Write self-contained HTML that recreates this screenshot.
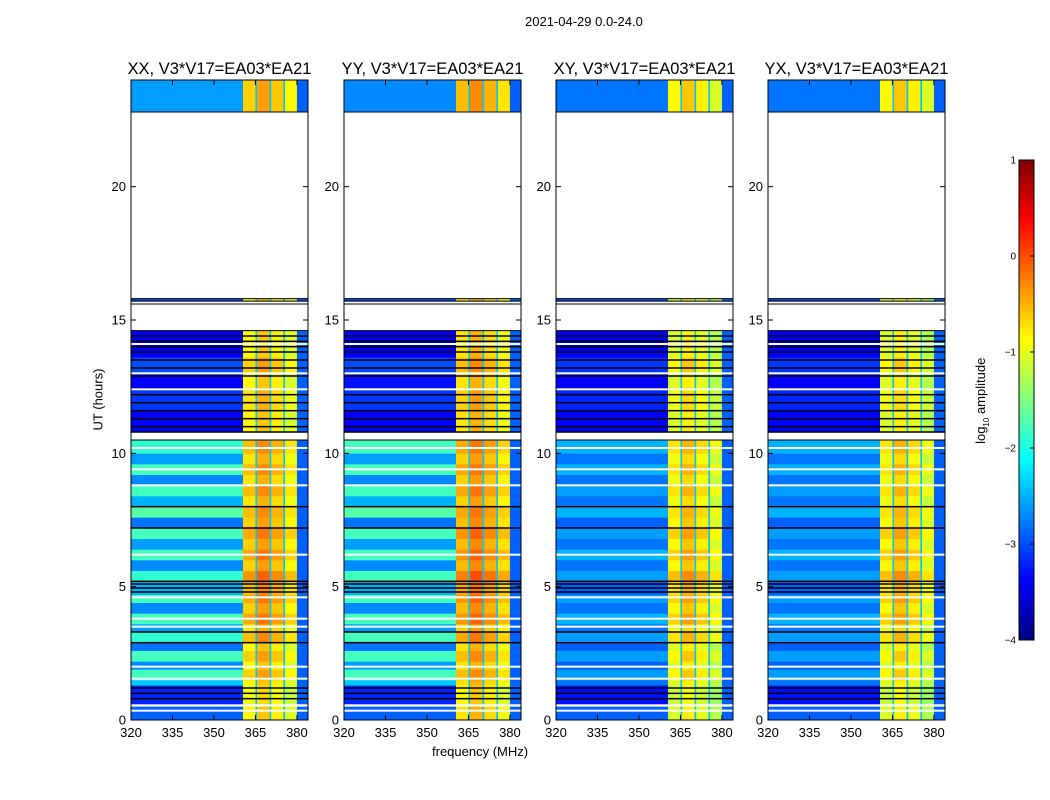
<!DOCTYPE html>
<html><head><meta charset="utf-8">
<style>
body{margin:0;background:#fff;font-family:"Liberation Sans",sans-serif;}
#wrap{position:relative;width:1050px;height:800px;overflow:hidden;}
.t{position:absolute;white-space:nowrap;color:#000;}
</style></head><body>
<div id="wrap">
<div class="t" style="left:525px;top:14px;font-size:13px;">2021-04-29 0.0-24.0</div>
<div class="t" style="left:432px;top:744px;font-size:13px;">frequency (MHz)</div>
<div class="t" style="left:60px;top:392px;font-size:13px;transform:rotate(-90deg);transform-origin:center;width:76px;text-align:center;">UT (hours)</div>
<div class="t" style="left:932px;top:392px;font-size:13px;transform:rotate(-90deg);width:100px;text-align:center;">log<sub style="font-size:8px">10</sub> amplitude</div>
<svg id="svg" width="1050" height="800" style="position:absolute;left:0;top:0"></svg>
</div>
<script>
const panelTitles=["XX, V3*V17=EA03*EA21","YY, V3*V17=EA03*EA21","XY, V3*V17=EA03*EA21","YX, V3*V17=EA03*EA21"];
const panelLefts=[131,344,556,768];
const xTicks=[320,335,350,365,380];
const yTicks=[0,5,10,15,20];
const cbTicks=[1,0,-1,-2,-3,-4];
// segments: [startHour,endHour,XXlow,YYlow,XYlow,YXlow,band] ; null = no data
const segStart=[0,0.5,0.6,1.3,1.5,1.9,2.2,2.6,2.9,3.3,3.6,4.0,4.4,4.7,5.2,5.6,6.0,6.4,6.8,7.2,7.6,8.0,8.4,8.8,9.2,9.6,10.0,10.5,10.8,11.6,12.4,13.0,13.6,14.6,15.6,15.8,22.8];
const segEnd  =[0.5,0.6,1.3,1.5,1.9,2.2,2.6,2.9,3.3,3.6,4.0,4.4,4.7,5.2,5.6,6.0,6.4,6.8,7.2,7.6,8.0,8.4,8.8,9.2,9.6,10.0,10.5,10.8,11.6,12.4,13.0,13.6,14.6,15.6,15.8,22.8,24];
const lowXX=[-2.9,null,-3.2,-2.4,-1.8,-2.7,-1.8,-2.8,-1.9,-2.6,-1.8,-2.7,-1.8,-2.5,-1.9,-2.7,-1.8,-2.6,-1.8,-2.8,-1.7,-2.5,-1.8,-2.7,-1.8,-2.6,-1.9,null,-3.4,-3.1,-3.4,-3.0,-3.4,null,-3.0,null,-2.6];
const lowYY=[-2.9,null,-3.2,-2.4,-1.8,-2.6,-1.8,-2.8,-1.8,-2.6,-1.8,-2.7,-1.8,-2.5,-1.8,-2.7,-1.8,-2.6,-1.8,-2.8,-1.7,-2.5,-1.8,-2.7,-1.8,-2.6,-1.8,null,-3.4,-3.1,-3.3,-3.0,-3.4,null,-3.0,null,-2.7];
const lowXY=[-2.9,null,-3.3,-2.8,-2.6,-2.9,-2.6,-2.9,-2.6,-2.8,-2.5,-2.8,-2.6,-2.9,-2.6,-2.8,-2.5,-2.8,-2.6,-2.9,-2.5,-2.8,-2.6,-2.8,-2.5,-2.8,-2.5,null,-3.4,-3.2,-3.4,-3.1,-3.4,null,-3.0,null,-2.8];
const lowYX=[-2.9,null,-3.3,-2.8,-2.6,-2.9,-2.6,-2.9,-2.6,-2.8,-2.5,-2.8,-2.6,-2.9,-2.6,-2.8,-2.5,-2.8,-2.6,-2.9,-2.5,-2.8,-2.6,-2.8,-2.5,-2.8,-2.5,null,-3.4,-3.2,-3.4,-3.1,-3.4,null,-3.0,null,-2.8];
const bandLevel=[-0.7,null,-0.8,-0.7,-0.5,-0.7,-0.5,-0.7,-0.4,-0.6,-0.3,-0.5,-0.3,-0.4,-0.2,-0.5,-0.3,-0.5,-0.3,-0.5,-0.4,-0.6,-0.4,-0.6,-0.4,-0.6,-0.4,null,-0.7,-0.6,-0.7,-0.5,-0.7,null,-0.7,null,-0.5];
const polBandOffset=[0.05,0.15,-0.15,-0.15];
// sub-band definitions (MHz): start, end, offset
const subStart=[360.5,365.6,370.7,375.7];
const subEnd=[365.0,370.1,375.1,380.0];
const subOffset=[-0.2,0.05,-0.15,-0.4];
const gapLevel=-2.4, edgeLevel=-2.9;
const blackLines=[0.8,1.0,1.2,2.9,3.3,4.8,4.95,5.1,5.2,7.2,8.0,10.8,11.0,11.3,11.6,11.9,12.2,12.9,13.2,13.5,13.8,14.0,14.2,14.4,15.7];
const whiteLines=[0.35,1.55,2.0,3.5,3.8,4.6,6.2,8.8,9.4,10.2,12.4,13.0,14.1,15.65];

const NS="http://www.w3.org/2000/svg";
const svg=document.getElementById('svg');
const PT=80,PB=720,PW=177;
function yScale(h){return PB-(h/24)*(PB-PT);}
function xScale(left,f){return left+(f-320)*(PW/64);}
function jet(v){let t=(v+4)/5;t=Math.max(0,Math.min(1,t));
 const r=Math.min(Math.max(Math.min(4*t-1.5,-4*t+4.5),0),1);
 const g=Math.min(Math.max(Math.min(4*t-0.5,-4*t+3.5),0),1);
 const b=Math.min(Math.max(Math.min(4*t+0.5,-4*t+2.5),0),1);
 return `rgb(${Math.round(r*255)},${Math.round(g*255)},${Math.round(b*255)})`;}
function el(tag,attrs,parent){const e=document.createElementNS(NS,tag);for(const k in attrs)e.setAttribute(k,attrs[k]);(parent||svg).appendChild(e);return e;}
const lows=[lowXX,lowYY,lowXY,lowYX];
panelLefts.forEach((L,p)=>{
 const g=el('g',{});
 
 
 for(let i=0;i<segStart.length;i++){
  const lv=lows[p][i]; if(lv===null) continue;
  const y0=yScale(segEnd[i]),y1=yScale(segStart[i]);
  const cells=[[320,subStart[0],lv]];
  for(let s=0;s<subStart.length;s++){
   cells.push([subStart[s],subEnd[s],bandLevel[i]+polBandOffset[p]+subOffset[s]]);
   if(s<subStart.length-1) cells.push([subEnd[s],subStart[s+1],gapLevel]);
  }
  cells.push([subEnd[subEnd.length-1],384,edgeLevel]);
  cells.forEach(c=>{
   const r=el('rect',{x:xScale(L,c[0]),y:y0,width:xScale(L,c[1])-xScale(L,c[0])+0.3,height:y1-y0+0.3,fill:jet(c[2])},g);
   
   
  });
 }
 blackLines.forEach(h=>{const r=el('rect',{x:L,y:yScale(h)-0.75,width:PW,height:1.5,fill:'#000'},g);
  });
 whiteLines.forEach(h=>{const r=el('rect',{x:L,y:yScale(h)-1,width:PW,height:2,fill:'#fff'},g);
  });
 [22.8,15.8,15.6,14.6,10.8,10.5].forEach(h=>{el('line',{x1:L,x2:L+PW,y1:yScale(h),y2:yScale(h),stroke:'#000','stroke-width':1},g);});
 const fr=el('rect',{x:L,y:PT,width:PW,height:PB-PT,fill:'none',stroke:'#000','stroke-width':1},g);
 
 const tt=el('text',{x:L+PW/2,y:74,'text-anchor':'middle','font-size':16.5,'font-family':'Liberation Sans, sans-serif'},g);
 tt.textContent=panelTitles[p];
 
 yTicks.forEach(v=>{const y=yScale(v);
  el('line',{x1:L,x2:L+5,y1:y,y2:y,stroke:'#000'},g);el('line',{x1:L+PW-5,x2:L+PW,y1:y,y2:y,stroke:'#000'},g);
  const t=el('text',{x:L-5,y:y+4.5,'text-anchor':'end','font-size':13,'font-family':'Liberation Sans, sans-serif'},g);t.textContent=v;
  });
 xTicks.forEach(v=>{const x=xScale(L,v);
  el('line',{x1:x,x2:x,y1:PB,y2:PB-5,stroke:'#000'},g);el('line',{x1:x,x2:x,y1:PT,y2:PT+5,stroke:'#000'},g);
  const t=el('text',{x:x,y:737,'text-anchor':'middle','font-size':13,'font-family':'Liberation Sans, sans-serif'},g);t.textContent=v;
  });
});
const CBX=1019,CBW=15,CBT=160,CBB=640;
const cb=el('g',{});

for(let i=0;i<120;i++){const v=1-5*(i+0.5)/120;
 el('rect',{x:CBX,y:CBT+(CBB-CBT)*i/120,width:CBW,height:(CBB-CBT)/120+0.5,fill:jet(v)},cb);}
el('rect',{x:CBX,y:CBT,width:CBW,height:CBB-CBT,fill:'none',stroke:'#000'},cb);
cbTicks.forEach(v=>{const y=CBT+(1-v)/5*(CBB-CBT);
 el('line',{x1:CBX+CBW-4,x2:CBX+CBW,y1:y,y2:y,stroke:'#000'},cb);
 const t=el('text',{x:CBX-3,y:y+3.5,'text-anchor':'end','font-size':10,'font-family':'Liberation Sans, sans-serif'},cb);
 t.textContent=(v<0?'\u2212'+(-v):v);
 });
</script>
</body></html>
